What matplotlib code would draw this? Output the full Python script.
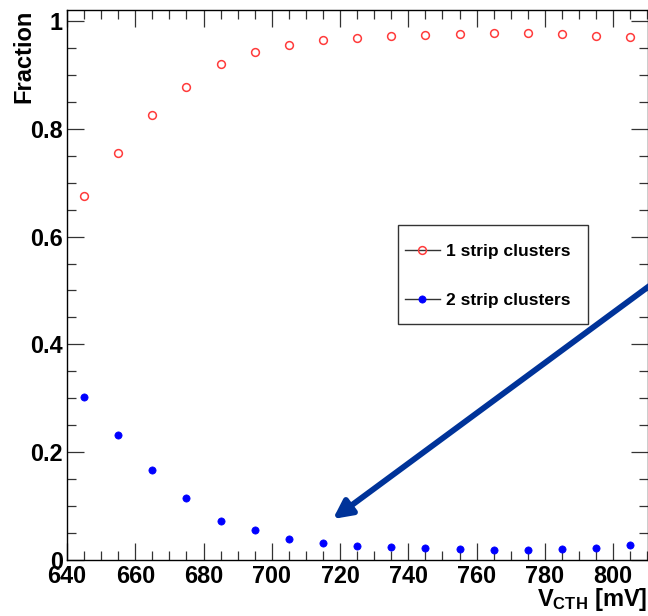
import matplotlib
matplotlib.use("Agg")
import matplotlib.pyplot as plt
from matplotlib.ticker import MultipleLocator
from matplotlib.patches import Rectangle
from matplotlib.lines import Line2D

plt.rcParams["font.family"] = ["Liberation Sans", "DejaVu Sans"]
plt.rcParams["font.weight"] = "bold"
plt.rcParams["mathtext.fontset"] = "custom"
plt.rcParams["mathtext.rm"] = "Liberation Sans:bold"
plt.rcParams["mathtext.bf"] = "Liberation Sans:bold"
plt.rcParams["mathtext.it"] = "Liberation Sans:bold"

# Threshold scan: cluster-size fractions vs. comparator threshold
vcth = [645, 655, 665, 675, 685, 695, 705, 715, 725, 735, 745, 755, 765, 775, 785, 795, 805]
frac_1strip = [0.676, 0.756, 0.826, 0.878, 0.921, 0.942, 0.956, 0.964, 0.969, 0.972,
               0.974, 0.976, 0.977, 0.977, 0.976, 0.973, 0.970]
frac_2strip = [0.302, 0.232, 0.167, 0.115, 0.072, 0.055, 0.039, 0.031, 0.026, 0.024,
               0.022, 0.020, 0.019, 0.019, 0.020, 0.023, 0.027]
label_1strip = "1 strip clusters"
label_2strip = "2 strip clusters"

RED = "#ff3b3b"
BLUE = "#0000ff"

W, H = 648, 616
AX_L, AX_R, AX_T, AX_B = 67, 648, 10.2, 560
fig = plt.figure(figsize=(W / 100, H / 100), dpi=100)
ax = fig.add_axes([AX_L / W, (H - AX_B) / H, (AX_R - AX_L) / W, (AX_B - AX_T) / H])


def to_axes(px, py):
    """Convert figure pixel position (from top-left) to axes fraction."""
    return (px - AX_L) / (AX_R - AX_L), (AX_B - py) / (AX_B - AX_T)


style_1 = dict(linestyle="none", marker="o", markersize=5.6, markerfacecolor="none",
               markeredgecolor=RED, markeredgewidth=1.1)
style_2 = dict(linestyle="none", marker="o", markersize=5.2, markerfacecolor=BLUE,
               markeredgecolor=BLUE, markeredgewidth=0.5)
ax.plot(vcth, frac_1strip, **style_1)
ax.plot(vcth, frac_2strip, **style_2)

ax.set_xlim(640, 810.2)
ax.set_ylim(0, 1.02)
ax.xaxis.set_major_locator(MultipleLocator(20))
ax.xaxis.set_minor_locator(MultipleLocator(5))
ax.yaxis.set_major_locator(MultipleLocator(0.2))
ax.yaxis.set_minor_locator(MultipleLocator(0.05))
ax.yaxis.set_major_formatter(plt.FuncFormatter(lambda v, p: f"{v:g}"))

ax.tick_params(which="both", direction="in", top=True, right=True,
               width=0.9, color="#333333", labelsize=16.8)
ax.tick_params(which="major", length=12.2)
ax.tick_params(which="minor", length=6.4)
ax.tick_params(axis="x", which="major", pad=3.5)
ax.tick_params(axis="y", which="major", pad=3)
for s in ax.spines.values():
    s.set_linewidth(1.0)
    s.set_color("black")

for lab in ax.get_xticklabels() + ax.get_yticklabels():
    lab.set_fontweight("bold")

# Axis titles placed ROOT-style at the ends of the axes
fig.text(24 / W, (H - 10) / H, "Fraction", rotation=90, ha="center", va="top",
         fontsize=17, fontweight="bold")
fig.text(647 / W, (H - 606) / H, r"$\mathrm{V_{CTH}}$ [mV]", ha="right",
         va="baseline", fontsize=17, fontweight="bold")

# Legend box drawn as a ROOT-style TLegend
x0, y0 = to_axes(398, 324)
x1, y1 = to_axes(588, 225)
ax.add_patch(Rectangle((x0, y0), x1 - x0, y1 - y0, transform=ax.transAxes,
                       facecolor="white", edgecolor="#333333", linewidth=1.0, zorder=5))
for (py, lbl, st) in [(250, label_1strip, style_1), (299, label_2strip, style_2)]:
    lx0, ly = to_axes(405, py)
    lx1, _ = to_axes(440, py)
    mx, _ = to_axes(422, py)
    tx, _ = to_axes(446, py)
    ax.add_line(Line2D([lx0, lx1], [ly, ly], transform=ax.transAxes,
                       color="#333333", linewidth=1.0, zorder=6))
    ax.add_line(Line2D([mx], [ly], transform=ax.transAxes, zorder=7, **st))
    ax.text(tx, ly, lbl, transform=ax.transAxes, ha="left", va="center_baseline",
            fontsize=12.5, fontweight="bold", zorder=7)

# Arrow pointing at the plateau onset of the 2-strip fraction
ax.annotate("", xy=(717.9, 0.076), xytext=(812.0, 0.515),
            xycoords="data", textcoords="data", annotation_clip=False,
            arrowprops=dict(arrowstyle="-|>,head_length=1.1,head_width=0.55",
                            color="#003399", lw=4.2, shrinkA=0, shrinkB=0))

fig.savefig("out.png", dpi=100)
